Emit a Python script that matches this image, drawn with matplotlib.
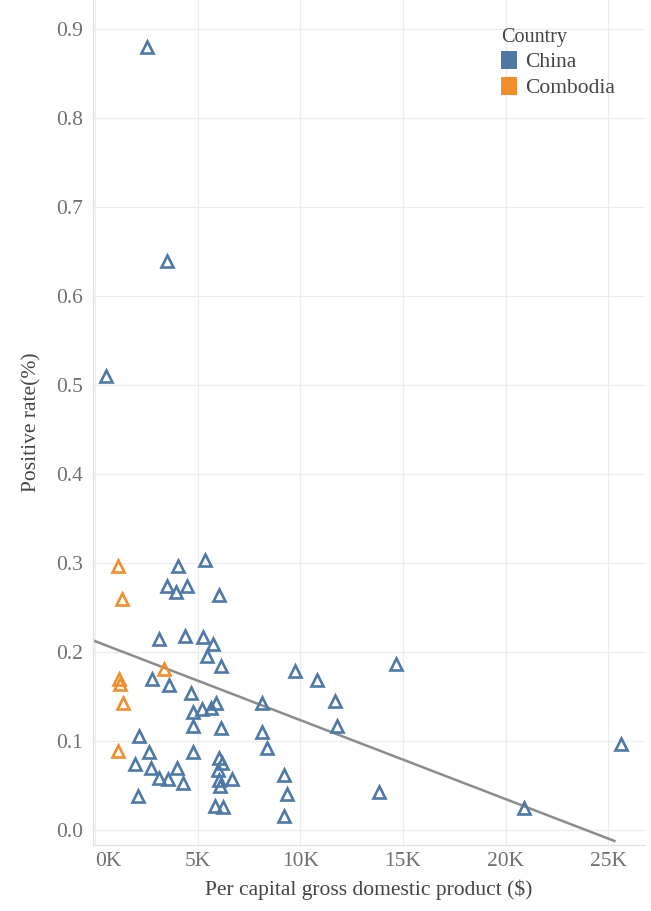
import matplotlib
matplotlib.use("Agg")
import matplotlib.pyplot as plt
from matplotlib.patches import Patch
import numpy as np

# GDP per capita (thousand $) and positive rate, China sites
china_gdp = [2.54, 3.51, 0.54, 4.05, 5.37, 3.51, 4.49, 3.95, 6.05, 3.12,
             4.39, 5.27, 5.76, 5.46, 6.15, 2.78, 3.61, 4.68, 5.90, 5.66,
             5.22, 4.78, 4.78, 6.15, 8.15, 8.15, 8.39, 9.76, 10.83, 11.71,
             11.80, 14.68, 4.78, 6.05, 6.20, 6.00, 6.05, 6.10, 6.68, 5.85,
             6.24, 4.00, 4.29, 9.22, 9.37, 9.22, 13.85, 20.88, 25.61, 2.15,
             2.63, 1.95, 2.73, 3.12, 3.56, 2.10]
china_rate = [0.880, 0.639, 0.510, 0.296, 0.303, 0.274, 0.274, 0.267, 0.264, 0.214,
              0.218, 0.217, 0.209, 0.195, 0.184, 0.169, 0.163, 0.154, 0.143, 0.137,
              0.136, 0.132, 0.117, 0.114, 0.143, 0.110, 0.092, 0.178, 0.168, 0.145,
              0.117, 0.186, 0.088, 0.081, 0.075, 0.067, 0.056, 0.049, 0.057, 0.027,
              0.026, 0.069, 0.053, 0.062, 0.040, 0.015, 0.043, 0.025, 0.097, 0.105,
              0.087, 0.074, 0.069, 0.058, 0.057, 0.038]

# Cambodia sites
camb_gdp = [1.12, 1.32, 3.37, 1.17, 1.22, 1.37, 1.12]
camb_rate = [0.296, 0.259, 0.181, 0.170, 0.164, 0.143, 0.089]

x_ticks = [0, 5, 10, 15, 20, 25]
x_ticklabels = ["0K", "5K", "10K", "15K", "20K", "25K"]
y_ticks = [0.0, 0.1, 0.2, 0.3, 0.4, 0.5, 0.6, 0.7, 0.8, 0.9]

blue = "#4e79a7"
orange = "#f28e2b"

plt.rcParams['font.family'] = ['Liberation Serif', 'DejaVu Serif']

fig = plt.figure(figsize=(6.51, 9.11), dpi=100)
ax = fig.add_axes([0.143, 0.0725, 0.848, 0.9275])

# linear trend over all sites
all_x = np.array(china_gdp + camb_gdp)
all_y = np.array(china_rate + camb_rate)
slope, intercept = np.polyfit(all_x, all_y, 1)
xs = np.array([-0.1, 25.3])
ax.plot(xs, intercept + slope * xs, color="#8c8c8c", lw=1.8, zorder=2)

ax.plot(china_gdp, china_rate, linestyle="none", marker="^", ms=9,
        mfc="none", mec=blue, mew=1.9, zorder=3)
ax.plot(camb_gdp, camb_rate, linestyle="none", marker="^", ms=9,
        mfc="none", mec=orange, mew=1.9, zorder=3)

ax.set_xlim(-0.1, 26.8)
ax.set_ylim(-0.017, 0.9326)
ax.set_xticks(x_ticks)
ax.set_xticklabels(x_ticklabels)
ax.set_yticks(y_ticks)
ax.set_yticklabels([f"{v:.1f}" for v in y_ticks])
ax.tick_params(length=0, labelsize=15.5, colors="#707070")
ax.tick_params(axis="y", pad=7)
ax.tick_params(axis="x", pad=5)
# first x label sits just right of the axis start
ax.get_xticklabels()[0].set_horizontalalignment("left")

ax.grid(True, color="#ececec", lw=0.9)
ax.set_axisbelow(True)
for side, sp in ax.spines.items():
    if side in ("left", "bottom"):
        sp.set_color("#e3e3e3")
        sp.set_linewidth(0.9)
    else:
        sp.set_visible(False)

ax.set_xlabel("Per capital gross domestic product ($)", fontsize=15.5,
              color="#444444", labelpad=6)
ax.set_ylabel("Positive rate(%)", fontsize=15.5, color="#444444", labelpad=11)

handles = [Patch(facecolor=blue, edgecolor="none", label="China"),
           Patch(facecolor=orange, edgecolor="none", label="Combodia")]
leg = ax.legend(handles=handles, title="Country", loc="upper left",
                bbox_to_anchor=(0.712, 0.985), frameon=False, fontsize=15.5,
                title_fontsize=14.5, handlelength=0.75, handleheight=0.9,
                handletextpad=0.35, labelspacing=0.2, borderpad=0.2)
leg._legend_box.align = "left"
leg.get_title().set_color("#444444")
for t in leg.get_texts():
    t.set_color("#444444")

fig.savefig("out.png", dpi=100)
